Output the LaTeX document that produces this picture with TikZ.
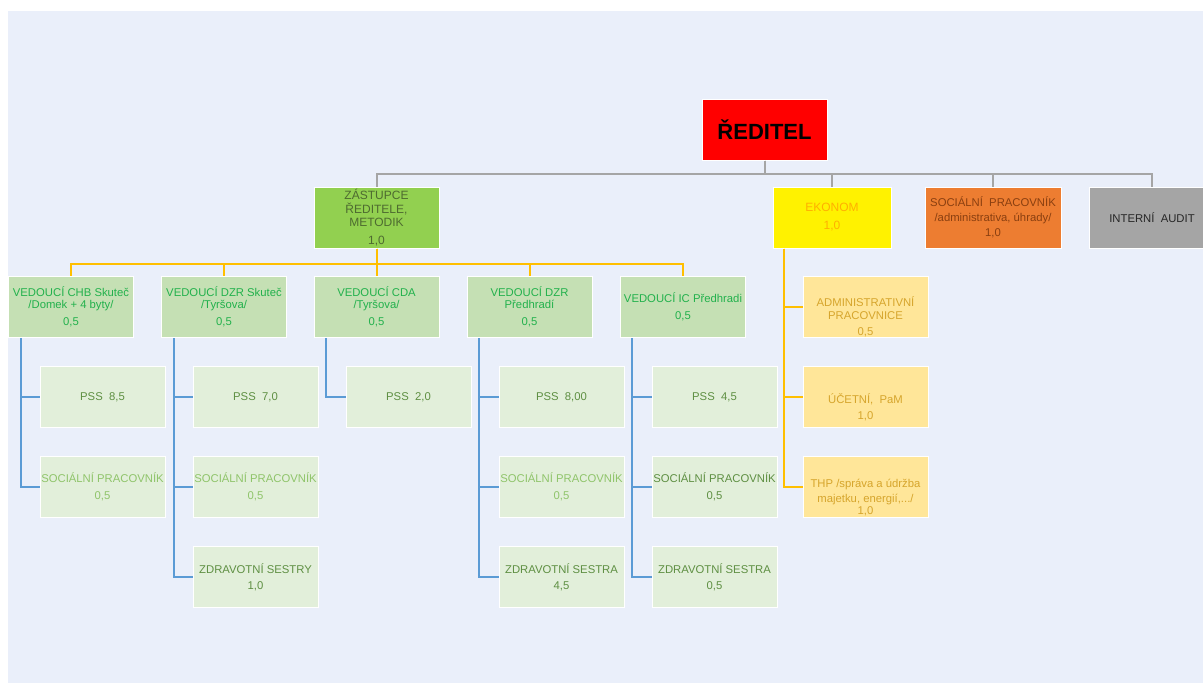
\documentclass[tikz,border=0pt]{standalone}
\usepackage{fontspec}
\setmainfont{Liberation Sans}
\definecolor{bgblue}{HTML}{EAEFFA}
\definecolor{linegrey}{HTML}{A5A5A5}
\definecolor{lineyel}{HTML}{FFBF00}
\definecolor{lineblue}{HTML}{5B9BD5}
\definecolor{zastfill}{HTML}{92D050}
\definecolor{zasttext}{HTML}{4E6B30}
\definecolor{ekontext}{HTML}{FFB000}
\definecolor{socfill}{HTML}{ED7D31}
\definecolor{soctext}{HTML}{8A3F10}
\definecolor{auditfill}{HTML}{A5A5A5}
\definecolor{vedfill}{HTML}{C5E0B4}
\definecolor{vedtext}{HTML}{22B14C}
\definecolor{podfill}{HTML}{E2EFDA}
\definecolor{podtext}{HTML}{5E8F42}
\definecolor{podlight}{HTML}{8FC46A}
\definecolor{thpfill}{HTML}{FFE699}
\definecolor{thptext}{HTML}{D6A52C}
\begin{document}
\begin{tikzpicture}[x=1pt, y=-1pt,
    box/.style={draw=white, line width=1pt, inner sep=0pt, minimum width=125pt, minimum height=61pt, align=center, font=\fontsize{11.3}{12.5}\selectfont},
    vedbox/.style={box, fill=vedfill, text=vedtext},
    podbox/.style={box, fill=podfill, text=podtext},
    thpbox/.style={box, fill=thpfill, text=thptext},
    greyline/.style={draw=linegrey, line width=2pt},
    yelline/.style={draw=lineyel, line width=2pt},
    blueline/.style={draw=lineblue, line width=2pt}]
    \useasboundingbox (0,0) rectangle (1203,686);
    \fill[bgblue] (8,11) rectangle (1203,683);
    % top level
    \node[box, fill=red, text=black, font=\fontsize{22}{24}\selectfont\bfseries] (red) at (764.5,129.5) {ŘEDITEL};
    \node[box, fill=zastfill, text=zasttext, font=\fontsize{12}{13.5}\selectfont] (zast) at (376.5,217.5) {ZÁSTUPCE\\ŘEDITELE,\\METODIK\\[4pt]1,0};
    \node[box, fill=yellow, text=ekontext, minimum width=118pt, font=\fontsize{12}{13}\selectfont] (ekon) at (832,217.5) {EKONOM\\[5pt]1,0};
    \node[box, fill=socfill, text=soctext, minimum width=136pt] (socp) at (993,217.5) {SOCIÁLNÍ\ \ PRACOVNÍK\\[2.5pt]/administrativa, úhrady/\\[2.5pt]1,0};
    \node[box, fill=auditfill, text=black!85, minimum width=126pt] (audit) at (1152,217.5) {INTERNÍ\ \ AUDIT};
    \draw[greyline] (red.south) -- ++(0,13) -| (zast.north);
    \draw[greyline] (red.south) -- ++(0,13) -| (ekon.north);
    \draw[greyline] (red.south) -- ++(0,13) -| (socp.north);
    \draw[greyline] (red.south) -- ++(0,13) -| (audit.north);
    % vedouci
    \node[vedbox] (chb) at (71,307) {VEDOUCÍ CHB Skuteč\\/Domek + 4 byty/\\[4.5pt]0,5};
    \node[vedbox] (dzrs) at (224,307) {VEDOUCÍ DZR Skuteč\\/Tyršova/\\[4.5pt]0,5};
    \node[vedbox] (cda) at (376.5,307) {VEDOUCÍ CDA\\/Tyršova/\\[4.5pt]0,5};
    \node[vedbox] (dzrp) at (529.5,307) {VEDOUCÍ DZR\\Předhradí\\[4.5pt]0,5};
    \node[vedbox] (ic) at (683,307) {VEDOUCÍ IC Předhradi\\[4.5pt]0,5};
    \foreach \v in {chb,dzrs,cda,dzrp,ic}
        \draw[yelline] (zast.south) -- ++(0,15) -| (\v.north);
    % podrizeni
    \node[podbox] (pss1) at (102.5,397) {PSS\ \ 8,5};
    \node[podbox, text=podlight] (soc1) at (102.5,487) {SOCIÁLNÍ PRACOVNÍK\\[4.5pt]0,5};
    \node[podbox] (pss2) at (255.5,397) {PSS\ \ 7,0};
    \node[podbox, text=podlight] (soc2) at (255.5,487) {SOCIÁLNÍ PRACOVNÍK\\[4.5pt]0,5};
    \node[podbox] (zdr2) at (255.5,577) {ZDRAVOTNÍ SESTRY\\[3.5pt]1,0};
    \node[podbox] (pss3) at (408.5,397) {PSS\ \ 2,0};
    \node[podbox] (pss4) at (561.5,397) {PSS\ \ 8,00};
    \node[podbox, text=podlight] (soc4) at (561.5,487) {SOCIÁLNÍ PRACOVNÍK\\[4.5pt]0,5};
    \node[podbox] (zdr4) at (561.5,577) {ZDRAVOTNÍ SESTRA\\[3.5pt]4,5};
    \node[podbox] (pss5) at (714.5,397) {PSS\ \ 4,5};
    \node[podbox] (soc5) at (714.5,487) {SOCIÁLNÍ PRACOVNÍK\\[4.5pt]0,5};
    \node[podbox] (zdr5) at (714.5,577) {ZDRAVOTNÍ SESTRA\\[3.5pt]0,5};
    \draw[blueline] ([xshift=13pt]chb.south west) |- (pss1.west);
    \draw[blueline] ([xshift=13pt]chb.south west) |- (soc1.west);
    \draw[blueline] ([xshift=13pt]dzrs.south west) |- (pss2.west);
    \draw[blueline] ([xshift=13pt]dzrs.south west) |- (soc2.west);
    \draw[blueline] ([xshift=13pt]dzrs.south west) |- (zdr2.west);
    \draw[blueline] ([xshift=12pt]cda.south west) |- (pss3.west);
    \draw[blueline] ([xshift=12pt]dzrp.south west) |- (pss4.west);
    \draw[blueline] ([xshift=12pt]dzrp.south west) |- (soc4.west);
    \draw[blueline] ([xshift=12pt]dzrp.south west) |- (zdr4.west);
    \draw[blueline] ([xshift=12pt]ic.south west) |- (pss5.west);
    \draw[blueline] ([xshift=12pt]ic.south west) |- (soc5.west);
    \draw[blueline] ([xshift=12pt]ic.south west) |- (zdr5.west);
    % ekonom
    \node[thpbox] (adm) at (865.5,307) {\rule{0pt}{30pt}ADMINISTRATIVNÍ\\PRACOVNICE\\[4pt]0,5};
    \node[thpbox] (uct) at (865.5,397) {\rule{0pt}{30pt}ÚČETNÍ,\ \ PaM\\[4pt]1,0};
    \node[thpbox] (thp) at (865.5,487) {\rule{0pt}{30pt}THP /správa a údržba\\[2pt]majetku, energií,.../\\[0pt]1,0};
    \draw[yelline] ([xshift=11pt]ekon.south west) |- (adm.west);
    \draw[yelline] ([xshift=11pt]ekon.south west) |- (uct.west);
    \draw[yelline] ([xshift=11pt]ekon.south west) |- (thp.west);
\end{tikzpicture}
\end{document}
